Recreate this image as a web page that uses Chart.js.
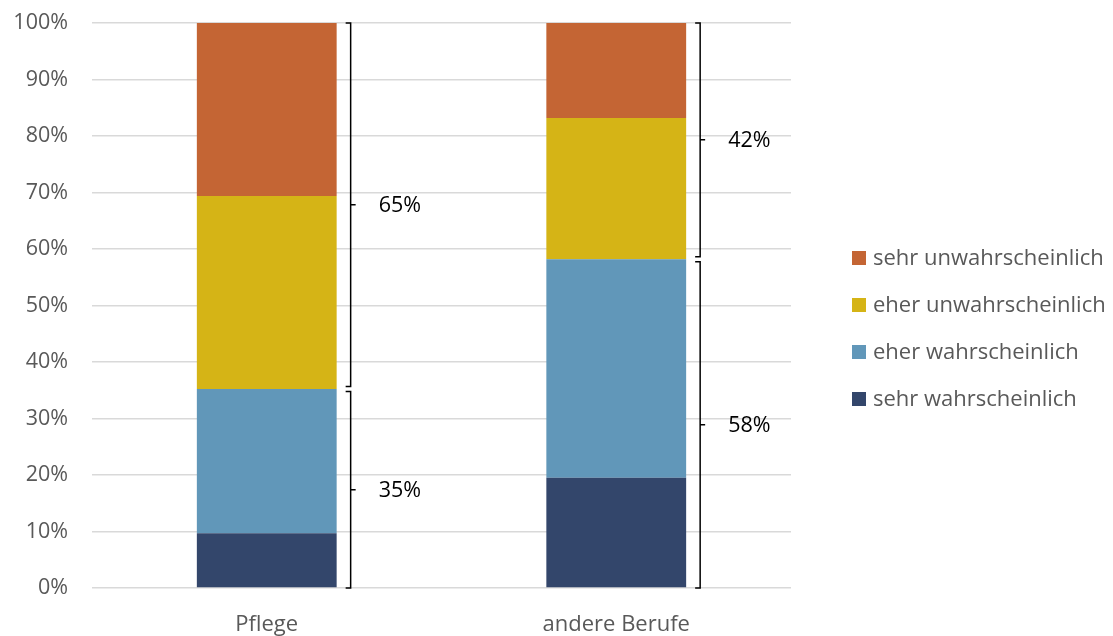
<!DOCTYPE html>
<html>
<head>
<meta charset="utf-8">
<script src="https://cdn.jsdelivr.net/npm/chart.js@4"></script>
<style>
  html, body { margin: 0; padding: 0; background: #fff; }
  #wrap { width: 1113px; height: 636px; }
</style>
</head>
<body>
<div id="wrap"><canvas id="chart" width="1113" height="636"></canvas></div>
<script>
// Daten (Anteile in %)
const categories = ['Pflege', 'andere Berufe'];
const sehrWahrscheinlich   = [9.7, 19.5];
const eherWahrscheinlich   = [25.5, 38.7];
const eherUnwahrscheinlich = [34.2, 25.0];
const sehrUnwahrscheinlich = [30.6, 16.8];
const yTicks = [0, 10, 20, 30, 40, 50, 60, 70, 80, 90, 100];

const FONT = '"Open Sans", "Noto Sans", sans-serif';
const GREY = '#595959';

// Klammern: unten (wahrscheinlich) und oben (unwahrscheinlich)
const bracketPlugin = {
  id: 'brackets',
  afterDatasetsDraw(chart) {
    const ctx = chart.ctx;
    const y = chart.scales.y;
    const meta = chart.getDatasetMeta(0);
    ctx.save();
    ctx.strokeStyle = '#000';
    ctx.lineWidth = 1.5;
    ctx.fillStyle = '#000';
    ctx.font = '21.5px ' + FONT;
    ctx.textBaseline = 'middle';
    ctx.textAlign = 'left';
    categories.forEach((c, i) => {
      const bar = meta.data[i];
      const bx = bar.x + bar.width / 2 + 14;
      const lower = sehrWahrscheinlich[i] + eherWahrscheinlich[i];
      const upper = eherUnwahrscheinlich[i] + sehrUnwahrscheinlich[i];
      const yMid = y.getPixelForValue(lower);
      const groups = [
        { top: yMid + 2.5, bot: y.getPixelForValue(0), val: lower },
        { top: y.getPixelForValue(lower + upper), bot: yMid - 2.5, val: upper }
      ];
      groups.forEach(g => {
        const m = (g.top + g.bot) / 2;
        ctx.beginPath();
        ctx.moveTo(bx - 5, g.top);
        ctx.lineTo(bx, g.top);
        ctx.lineTo(bx, g.bot);
        ctx.lineTo(bx - 5, g.bot);
        ctx.moveTo(bx, m);
        ctx.lineTo(bx + 5, m);
        ctx.stroke();
        ctx.fillText(Math.round(g.val) + '%', bx + 28, m + 1);
      });
    });
    ctx.restore();
  }
};

// Legende rechts (umgekehrte Reihenfolge)
const legendPlugin = {
  id: 'sideLegend',
  afterDraw(chart) {
    const ctx = chart.ctx;
    const area = chart.chartArea;
    const items = chart.data.datasets.slice().reverse();
    const x0 = area.right + 61;
    const y0 = area.top + 235;
    ctx.save();
    ctx.font = '22px ' + FONT;
    ctx.textBaseline = 'middle';
    ctx.textAlign = 'left';
    items.forEach((ds, k) => {
      const yc = y0 + k * 47;
      ctx.fillStyle = ds.backgroundColor;
      ctx.fillRect(x0, yc - 7, 14, 14);
      ctx.fillStyle = GREY;
      ctx.fillText(ds.label, x0 + 21, yc + 1);
    });
    ctx.restore();
  }
};

new Chart(document.getElementById('chart'), {
  type: 'bar',
  data: {
    labels: categories,
    datasets: [
      { label: 'sehr wahrscheinlich', data: sehrWahrscheinlich, backgroundColor: '#33466b' },
      { label: 'eher wahrscheinlich', data: eherWahrscheinlich, backgroundColor: '#6197b9' },
      { label: 'eher unwahrscheinlich', data: eherUnwahrscheinlich, backgroundColor: '#d5b416' },
      { label: 'sehr unwahrscheinlich', data: sehrUnwahrscheinlich, backgroundColor: '#c46534' }
    ]
  },
  options: {
    responsive: false,
    animation: false,
    datasets: { bar: { barPercentage: 0.4, categoryPercentage: 1 } },
    layout: { padding: { left: 0, top: 23, right: 322, bottom: 0 } },
    scales: {
      x: {
        stacked: true,
        grid: { display: false },
        border: { display: false },
        ticks: { color: GREY, font: { family: FONT, size: 22 }, padding: 16 },
        afterFit: s => { s.height = 48; s.paddingLeft = 0; s.paddingRight = 0; }
      },
      y: {
        stacked: true,
        min: 0, max: 100,
        afterBuildTicks: s => { s.ticks = yTicks.map(v => ({ value: v })); },
        grid: { color: '#d9d9d9', lineWidth: 1.5, drawTicks: false },
        border: { display: false },
        ticks: { color: GREY, font: { family: FONT, size: 21.5 }, padding: 24, callback: v => v + '%' },
        afterFit: s => { s.width = 92; s.paddingTop = 0; s.paddingBottom = 0; }
      }
    },
    plugins: {
      tooltip: { enabled: false },
      legend: { display: false }
    }
  },
  plugins: [bracketPlugin, legendPlugin]
});
</script>
</body>
</html>
